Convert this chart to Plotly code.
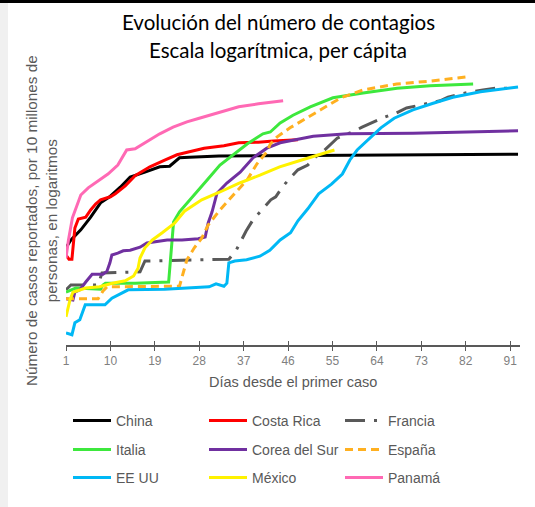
import plotly.graph_objects as go

# ---------------- data (days since first case, log10 cases per 10M people) -------------
china_days = [1, 2, 4, 6, 8, 10, 12, 14, 17, 20, 22, 23, 24, 26, 32, 50, 70, 92.6]
china_vals = [1.62, 1.75, 1.92, 2.13, 2.37, 2.48, 2.63, 2.80, 2.88, 2.97, 2.98, 3.05, 3.12, 3.13, 3.15, 3.16, 3.17, 3.18]

cr_days = [1, 1.6, 2.2, 2.8, 3.5, 5, 6, 7, 8, 10, 11, 13, 15, 18, 21, 23.5, 26, 29, 33, 36, 40, 43, 48]
cr_vals = [1.50, 1.43, 1.43, 1.95, 2.10, 2.13, 2.25, 2.35, 2.42, 2.47, 2.52, 2.65, 2.82, 2.97, 3.08, 3.17, 3.22, 3.28, 3.32, 3.37, 3.38, 3.40, 3.42]

fr_days = [1, 2, 7.5, 8.3, 16, 17, 34, 35.5, 37.5, 39, 40.7, 42.5, 43.5, 45, 46.6, 48, 50, 51.5, 53.4, 56, 59, 61, 65.6, 68, 70, 74.4, 76.8, 78.4, 83, 85.5, 88, 90.5]
fr_vals = [0.92, 1.00, 1.00, 1.20, 1.22, 1.40, 1.43, 1.58, 1.90, 2.10, 2.25, 2.42, 2.47, 2.65, 2.80, 2.92, 3.00, 3.13, 3.25, 3.45, 3.55, 3.63, 3.80, 3.87, 3.95, 4.03, 4.07, 4.13, 4.22, 4.25, 4.28, 4.28]

it_days = [1, 3, 8, 8.5, 9, 15, 21.8, 22.8, 24, 26.7, 29.6, 32.2, 34.9, 37.7, 40.9, 42.4, 44.4, 47.0, 50.5, 55.1, 61.2, 68.1, 74.8, 83.5]
it_vals = [0.88, 0.95, 0.93, 1.00, 1.03, 1.03, 1.05, 2.05, 2.22, 2.47, 2.75, 3.00, 3.17, 3.35, 3.52, 3.55, 3.70, 3.83, 3.97, 4.12, 4.20, 4.28, 4.32, 4.35]

kr_days = [1, 2.4, 2.8, 3.8, 5.0, 6.3, 8.5, 9.3, 9.9, 10.3, 11.5, 12.6, 14.0, 16.0, 17.4, 19.4, 21.5, 24.5, 27.8, 29.2, 29.8, 30.6, 31.6, 33.6, 36.3, 38.9, 41.7, 44.4, 47.8, 51.1, 58.0, 71.3, 92.6]
kr_vals = [0.77, 0.75, 0.88, 0.92, 1.05, 1.18, 1.18, 1.23, 1.37, 1.50, 1.53, 1.57, 1.58, 1.63, 1.70, 1.72, 1.75, 1.75, 1.77, 1.80, 2.03, 2.22, 2.53, 2.70, 2.88, 3.12, 3.28, 3.37, 3.42, 3.48, 3.52, 3.53, 3.57]

es_days = [1, 7.5, 8.5, 9.3, 24, 24.5, 25.5, 27, 28.5, 29.8, 32.2, 34.9, 37.7, 39.7, 41.7, 42.4, 43.8, 46.4, 48.4, 52.6, 56.7, 61.2, 68, 75, 82.5]
es_vals = [0.77, 0.77, 0.90, 0.97, 0.98, 1.12, 1.42, 1.62, 1.78, 2.00, 2.25, 2.50, 2.75, 3.02, 3.22, 3.35, 3.47, 3.62, 3.72, 3.92, 4.12, 4.25, 4.35, 4.40, 4.47]

us_days = [1, 2.2, 2.8, 3.8, 4.9, 8.9, 10.3, 12.4, 13.6, 21, 25.5, 30, 31.4, 33, 33.6, 34, 35.2, 37.6, 40.3, 42.3, 44.4, 46.5, 48, 50, 52.2, 54.8, 57, 58.5, 60, 62, 64.8, 67.5, 71.3, 75.4, 79.4, 85, 92.6]
us_vals = [0.20, 0.17, 0.37, 0.42, 0.67, 0.67, 0.78, 0.87, 0.92, 0.93, 0.95, 0.97, 1.02, 0.98, 1.03, 1.37, 1.40, 1.42, 1.48, 1.58, 1.75, 1.87, 2.07, 2.27, 2.52, 2.68, 2.85, 3.08, 3.25, 3.40, 3.62, 3.78, 3.92, 4.03, 4.13, 4.22, 4.30]

mx_days = [1, 1.8, 2.4, 5, 7.8, 10.4, 13, 14.7, 15.6, 16, 17, 18.5, 20.5, 23, 25, 28.5, 32.2, 36.2, 40.3, 44.3, 48.6, 55.4]
mx_vals = [0.47, 0.75, 0.88, 0.95, 0.97, 1.03, 1.07, 1.15, 1.28, 1.45, 1.62, 1.75, 1.87, 2.03, 2.23, 2.42, 2.55, 2.70, 2.83, 2.97, 3.08, 3.25]

pa_days = [1, 1.5, 2.3, 3, 4, 5.5, 7.5, 9.5, 11.5, 12.5, 13.3, 15, 16, 18, 20, 22.7, 25.5, 28, 32, 36, 40, 45]
pa_vals = [1.45, 1.75, 2.12, 2.28, 2.50, 2.62, 2.73, 2.85, 3.00, 3.15, 3.25, 3.27, 3.32, 3.42, 3.52, 3.63, 3.72, 3.78, 3.87, 3.97, 4.02, 4.07]

tick_vals = [1, 10, 19, 28, 37, 46, 55, 64, 73, 82, 91]

series = [
    ("China", china_days, china_vals, "#000000", "solid", "legend"),
    ("Costa Rica", cr_days, cr_vals, "#FF0000", "solid", "legend"),
    ("Francia", fr_days, fr_vals, "#595959", "20px,9px,3px,9px", "legend"),
    ("Italia", it_days, it_vals, "#3DE83D", "solid", "legend2"),
    ("Corea del Sur", kr_days, kr_vals, "#7030A0", "solid", "legend2"),
    ("España", es_days, es_vals, "#FFB020", "8px,5px", "legend2"),
    ("EE UU", us_days, us_vals, "#00B8F5", "solid", "legend3"),
    ("México", mx_days, mx_vals, "#FFF200", "solid", "legend3"),
    ("Panamá", pa_days, pa_vals, "#FF69B4", "solid", "legend3"),
]

fig = go.Figure()
for name, xs, ys, col, dash, lg in series:
    fig.add_trace(go.Scatter(x=xs, y=ys, name=name, mode="lines",
                             line=dict(color=col, width=3, dash=dash),
                             legend=lg))

# dummy trace for the upper half of the crossing tick marks
fig.add_trace(go.Scatter(x=[None], y=[None], xaxis="x2", showlegend=False,
                         hoverinfo="skip"))

W, H = 535, 507
L, R, T, B = 66, 15, 57, 162
PW, PH = W - L - R, H - T - B

def px(xp):
    return (xp - L) / PW

def py(yp):
    return (H - B - yp) / PH

gray = "#595959"
legend_common = dict(orientation="h", xref="container", yref="container",
                     xanchor="left", yanchor="middle", entrywidth=83,
                     entrywidthmode="pixels", itemwidth=38,
                     font=dict(family="Liberation Sans", size=14, color=gray),
                     bgcolor="rgba(0,0,0,0)", traceorder="normal")

fig.update_layout(
    width=W, height=H, margin=dict(l=L, r=R, t=T, b=B),
    paper_bgcolor="white", plot_bgcolor="white",
    showlegend=True,
    xaxis=dict(range=[1, 93], tickvals=tick_vals, ticks="outside", ticklen=4,
               tickcolor=gray, tickwidth=1.2, showline=True, linecolor=gray,
               linewidth=1.5, showgrid=False, zeroline=False,
               tickfont=dict(family="Liberation Sans", size=12, color="#7f7f7f")),
    xaxis2=dict(range=[1, 93], overlaying="x", tickvals=tick_vals, ticks="inside",
                ticklen=4, tickcolor=gray, tickwidth=1.2, showticklabels=False,
                showline=False, showgrid=False, zeroline=False, anchor="y"),
    yaxis=dict(range=[0, 4.8], visible=False),
    legend=dict(legend_common, x=68 / W, y=1 - 421 / H),
    legend2=dict(legend_common, x=68 / W, y=1 - 450 / H),
    legend3=dict(legend_common, x=68 / W, y=1 - 478 / H),
    shapes=[
        dict(type="rect", xref="paper", yref="paper", x0=px(0), x1=px(8),
             y0=py(H), y1=py(3), fillcolor="#f0f0f0", line=dict(width=0), layer="below"),
        dict(type="rect", xref="paper", yref="paper", x0=px(0), x1=px(W),
             y0=py(3), y1=py(0), fillcolor="#000000", line=dict(width=0)),
    ],
    annotations=[
        dict(text="Evolución del número de contagios", xref="paper", yref="paper",
             x=px(278), y=py(22), xanchor="center", yanchor="middle", showarrow=False,
             font=dict(family="Lato", size=20.5, color="black")),
        dict(text="Escala logarítmica, per cápita", xref="paper", yref="paper",
             x=px(278), y=py(50), xanchor="center", yanchor="middle", showarrow=False,
             font=dict(family="Lato", size=20.5, color="black")),
        dict(text="Número de casos reportados, por 10 millones de<br>personas, en logaritmos",
             xref="paper", yref="paper", x=px(41), y=py(221), textangle=-90,
             xanchor="center", yanchor="middle", showarrow=False,
             font=dict(family="Liberation Sans", size=15.3, color=gray)),
        dict(text="Días desde el primer caso", xref="paper", yref="paper",
             x=px(293), y=py(382), xanchor="center", yanchor="middle", showarrow=False,
             font=dict(family="Liberation Sans", size=14.5, color=gray)),
    ],
)

fig.write_html("out.html", config={"displayModeBar": False},
               post_script="document.body.style.margin='0px';")
